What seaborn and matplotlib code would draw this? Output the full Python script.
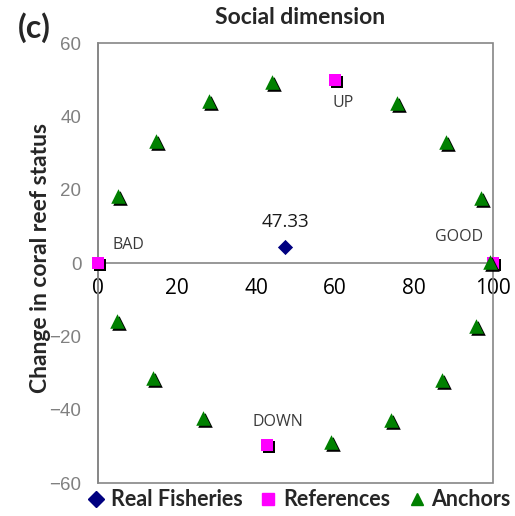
import matplotlib
matplotlib.use("Agg")
import matplotlib.pyplot as plt
import seaborn as sns
import pandas as pd
from matplotlib.transforms import offset_copy
from matplotlib.patches import Rectangle
from matplotlib.lines import Line2D

# ---- data -------------------------------------------------------------
real_x = [47.33]
real_y = [4.4]

ref_x = [100, 0, 60, 42.7]
ref_y = [0, 0, 50, -49.5]
ref_labels = ["GOOD", "BAD", "UP", "DOWN"]

anchor_x = [5.1, 14.6, 28.1, 44.0, 75.6, 88.1, 96.9, 99.2,
            95.7, 87.0, 74.3, 58.9, 26.7, 14.0, 4.7]
anchor_y = [18.2, 33.2, 44.1, 49.5, 43.6, 32.9, 17.7, 0.3,
            -17.1, -31.8, -42.9, -48.9, -42.3, -31.4, -15.9]

x_ticks = [0, 20, 40, 60, 80, 100]
y_ticks = [-60, -40, -20, 0, 20, 40, 60]

real = pd.DataFrame({"x": real_x, "y": real_y})
refs = pd.DataFrame({"x": ref_x, "y": ref_y, "label": ref_labels})
anchors = pd.DataFrame({"x": anchor_x, "y": anchor_y})

# ---- style ------------------------------------------------------------
sns.set_style("white")
plt.rcParams["font.family"] = ["Lato", "DejaVu Sans"]
GRAY = "#868686"

fig = plt.figure(figsize=(5.15, 5.16), dpi=100)
ax = fig.add_axes([98 / 515, 1 - 483 / 516, 395 / 515, 440 / 516])

shadow = offset_copy(ax.transData, fig=fig, x=2, y=-2, units="dots")

# references (squares) with drop shadow
sns.scatterplot(data=refs, x="x", y="y", ax=ax, marker="s", s=85,
                color="black", linewidth=0, transform=shadow, clip_on=False,
                legend=False, zorder=3)
sns.scatterplot(data=refs, x="x", y="y", ax=ax, marker="s", s=85,
                color="#FF00FF", linewidth=0, clip_on=False,
                legend=False, zorder=4)

# anchors (triangles) with drop shadow
sns.scatterplot(data=anchors, x="x", y="y", ax=ax, marker="^", s=110,
                color="black", linewidth=0, transform=shadow, clip_on=False,
                legend=False, zorder=5)
sns.scatterplot(data=anchors, x="x", y="y", ax=ax, marker="^", s=110,
                color="#008000", linewidth=0, clip_on=False,
                legend=False, zorder=6)

# real fisheries (diamond)
sns.scatterplot(data=real, x="x", y="y", ax=ax, marker="D", s=60,
                color="#000080", linewidth=0, clip_on=False,
                legend=False, zorder=7)

# labels
ax.annotate(f"{real_x[0]:.2f}", (real_x[0], real_y[0]), xytext=(0, 25),
            textcoords="offset pixels", ha="center", va="center",
            fontsize=13.5, color="#1a1a1a", family=["Open Sans", "DejaVu Sans"])

label_offsets = {"GOOD": ((-10, 26), "right"), "BAD": ((14, 18), "left"),
                 "UP": ((-2, -23), "left"), "DOWN": ((-14, 22), "left")}
for _, r in refs.iterrows():
    off, ha = label_offsets[r["label"]]
    ax.annotate(r["label"], (r["x"], r["y"]), xytext=off,
                textcoords="offset pixels", ha=ha, va="center",
                fontsize=11.5, color="#3a3a3a",
                family=["Open Sans", "DejaVu Sans"])

# axes
ax.set_xlim(0, 100)
ax.set_ylim(-60, 60)
ax.set_xticks(x_ticks)
ax.set_yticks(y_ticks)
ax.set_xlabel("")
ax.set_ylabel("")

ax.spines["bottom"].set_position(("data", 0))
for side in ["top", "right"]:
    ax.spines[side].set_visible(False)
for side in ["bottom", "left"]:
    ax.spines[side].set_color(GRAY)
    ax.spines[side].set_linewidth(1.2)
ax.add_patch(Rectangle((0, 0), 1, 1, transform=ax.transAxes, fill=False,
                       edgecolor=GRAY, linewidth=1.2, clip_on=False, zorder=1))

ax.tick_params(axis="x", direction="in", length=5, width=1, color=GRAY,
               pad=11, labelsize=15, labelcolor="black")
ax.tick_params(axis="y", direction="in", length=5, width=1, color=GRAY,
               pad=12, labelsize=13.5, labelcolor="#808080")
for t in ax.get_yticklabels():
    t.set_family(["Liberation Sans", "DejaVu Sans"])
for t in ax.get_xticklabels():
    t.set_family(["Open Sans", "DejaVu Sans"])

# titles
fig.text(300 / 515, 1 - 18 / 516, "Social dimension", ha="center",
         va="center", fontsize=16.5, fontweight="bold")
fig.text(18 / 515, 1 - 28 / 516, "(c)", ha="left", va="center",
         fontsize=23, fontweight="bold")
fig.text(41 / 515, 1 - 258 / 516, "Change in coral reef status",
         rotation=90, ha="center", va="center", fontsize=16.5,
         fontweight="bold")

# legend
handles = [
    Line2D([], [], marker="D", color="#000080", linestyle="", markersize=8),
    Line2D([], [], marker="s", color="#FF00FF", linestyle="", markersize=9),
    Line2D([], [], marker="^", color="#008000", linestyle="", markersize=8),
]
fig.legend(handles, ["Real Fisheries", "References", "Anchors"],
           loc="center", bbox_to_anchor=(298 / 515, 1 - 500 / 516), ncol=3,
           frameon=False, prop={"weight": "bold", "size": 15.5},
           handletextpad=0.2, columnspacing=0.7, handlelength=1.0,
           borderaxespad=0, borderpad=0)

fig.savefig("out.png", dpi=100)
